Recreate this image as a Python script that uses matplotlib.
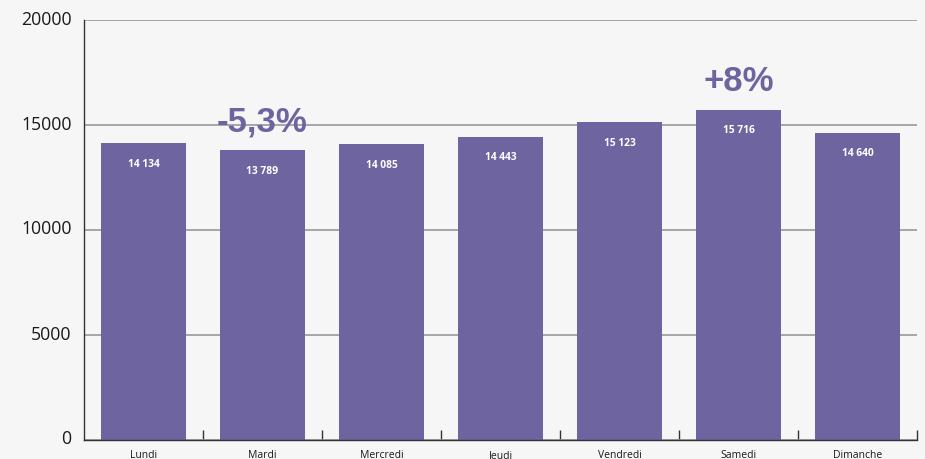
import matplotlib
matplotlib.use("Agg")
import matplotlib.pyplot as plt
import matplotlib.transforms as mtransforms
from matplotlib.ticker import FixedLocator, NullFormatter

days = ["Lundi", "Mardi", "Mercredi", "Jeudi", "Vendredi", "Samedi", "Dimanche"]
visits = [14134, 13789, 14085, 14443, 15123, 15716, 14640]
value_labels = ["14 134", "13 789", "14 085", "14 443", "15 123", "15 716", "14 640"]
highlights = {"Mardi": "-5,3%", "Samedi": "+8%"}
y_ticks = [0, 5000, 10000, 15000, 20000]

bar_color = "#6E64A0"
bg_color = "#F6F6F6"

fig = plt.figure(figsize=(9.25, 4.6), dpi=100, facecolor=bg_color)
ax = fig.add_axes([84 / 925, 19 / 460, 833 / 925, 420 / 460])
ax.set_facecolor(bg_color)

x = list(range(len(days)))
ax.bar(x, visits, width=0.72, color=bar_color, zorder=3)

ax.set_xlim(-0.5, len(days) - 0.5)
ax.set_ylim(0, 20000)

# horizontal guides
ax.set_yticks(y_ticks)
ax.set_yticklabels([str(v) for v in y_ticks], fontsize=12.7, family=["Open Sans", "DejaVu Sans"], color="#1a1a1a")
ax.grid(axis="y", color="#999999", linewidth=1.2, zorder=0)
ax.tick_params(axis="y", length=0, pad=9.0)
offset = mtransforms.ScaledTranslation(0, 3.5 / 100, fig.dpi_scale_trans)
for lab in ax.get_yticklabels():
    lab.set_transform(lab.get_transform() + offset)

# category labels centred, separator ticks between categories
ax.set_xticks(x)
ax.set_xticklabels(days, fontsize=7.5, family=["Open Sans", "DejaVu Sans"], color="#1a1a1a")
ax.tick_params(axis="x", which="major", length=0, pad=6.5)
ax.xaxis.set_minor_locator(FixedLocator([i + 0.5 for i in x]))
ax.xaxis.set_minor_formatter(NullFormatter())
ax.tick_params(axis="x", which="minor", direction="in", length=7.2, width=1.0, color="#333333")

for side in ("top", "right"):
    ax.spines[side].set_visible(False)
for side in ("left", "bottom"):
    ax.spines[side].set_color("#333333")
    ax.spines[side].set_linewidth(1.0)
    ax.spines[side].set_zorder(4)

# values inside the bars
for xi, v, txt in zip(x, visits, value_labels):
    ax.annotate(txt, xy=(xi, v), xytext=(0, -14.4), textcoords="offset points",
                ha="center", va="center", color="white", fontsize=7.4,
                fontweight="bold", family=["Open Sans", "DejaVu Sans"], zorder=5)

# variation callouts above selected bars
for xi, day, v in zip(x, days, visits):
    if day in highlights:
        ax.annotate(highlights[day], xy=(xi, v), xytext=(0, 21.5), textcoords="offset points",
                    ha="center", va="center", color=bar_color, fontsize=25,
                    fontweight="bold", family=["Liberation Sans", "DejaVu Sans"], zorder=5)

fig.savefig("out.png", dpi=100, facecolor=bg_color)
